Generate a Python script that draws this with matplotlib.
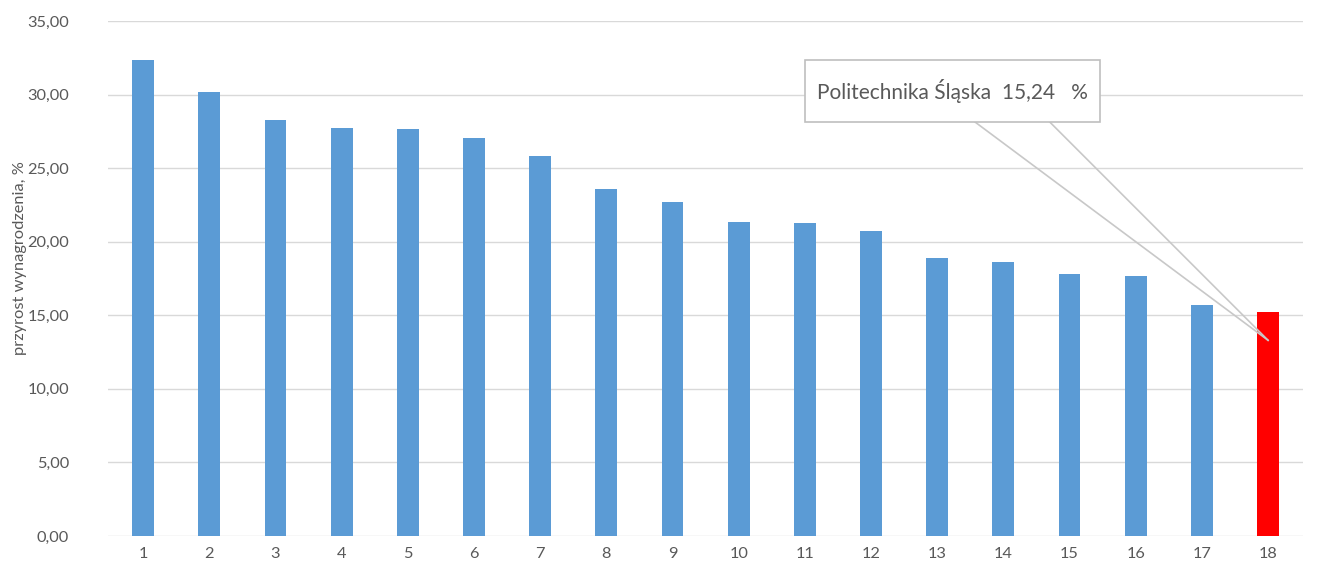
import numpy as np
from matplotlib import pyplot as plt
from matplotlib.patches import Rectangle

plt.rcParams['font.family'] = ['Lato', 'DejaVu Sans']

# bar values
positions = list(range(1, 19))
values = [32.35, 30.15, 28.25, 27.76, 27.64, 27.03, 25.85, 23.57, 22.73,
          21.32, 21.30, 20.73, 18.92, 18.65, 17.81, 17.65, 15.68, 15.24]
highlight_index = 17
highlight_label = "Politechnika Śląska  15,24   %"
y_ticks = [0, 5, 10, 15, 20, 25, 30, 35]
y_label = "przyrost wynagrodzenia, %"

blue = "#5B9BD5"
red = "#FF0000"
grey_text = "#595959"

fig = plt.figure(figsize=(13.27, 5.73), dpi=100)
ax = fig.add_axes([0.0814, 0.0646, 0.9006, 0.8988])

colors = [red if i == highlight_index else blue for i in range(len(values))]
ax.bar(positions, values, width=0.33, color=colors, zorder=2)

ax.set_xlim(0.47, 18.53)
ax.set_ylim(0, 35)
ax.set_yticks(y_ticks)
ax.set_yticklabels(["%d,00" % t for t in y_ticks])
ax.set_xticks(positions)
ax.set_xticklabels([str(p) for p in positions])
ax.grid(axis='y', color="#D9D9D9", linewidth=1.0, zorder=0)
ax.set_axisbelow(True)
for side in ["top", "right", "left", "bottom"]:
    ax.spines[side].set_visible(False)
ax.tick_params(axis='both', length=0, colors=grey_text, labelsize=11.8)
ax.tick_params(axis='y', pad=28)
ax.tick_params(axis='x', pad=8)

ax.set_ylabel(y_label, color=grey_text, fontsize=11.8)
ax.yaxis.set_label_coords(-0.068, 0.54)

# callout for the highlighted bar
tip_x = positions[highlight_index]
tip_y = 13.3
ax.plot([13.57, tip_x], [28.14, tip_y], color="#C8C8C8", linewidth=1.2, zorder=3, clip_on=False)
ax.plot([14.70, tip_x], [28.14, tip_y], color="#C8C8C8", linewidth=1.2, zorder=3, clip_on=False)
box = Rectangle((11.0, 28.14), 4.46, 4.22, facecolor="white", edgecolor="#BFBFBF",
                linewidth=1.2, zorder=4)
ax.add_patch(box)
ax.text(13.23, 30.25, highlight_label, ha='center', va='center', fontsize=15,
        color=grey_text, zorder=5)

fig.savefig("out.png", dpi=100)
